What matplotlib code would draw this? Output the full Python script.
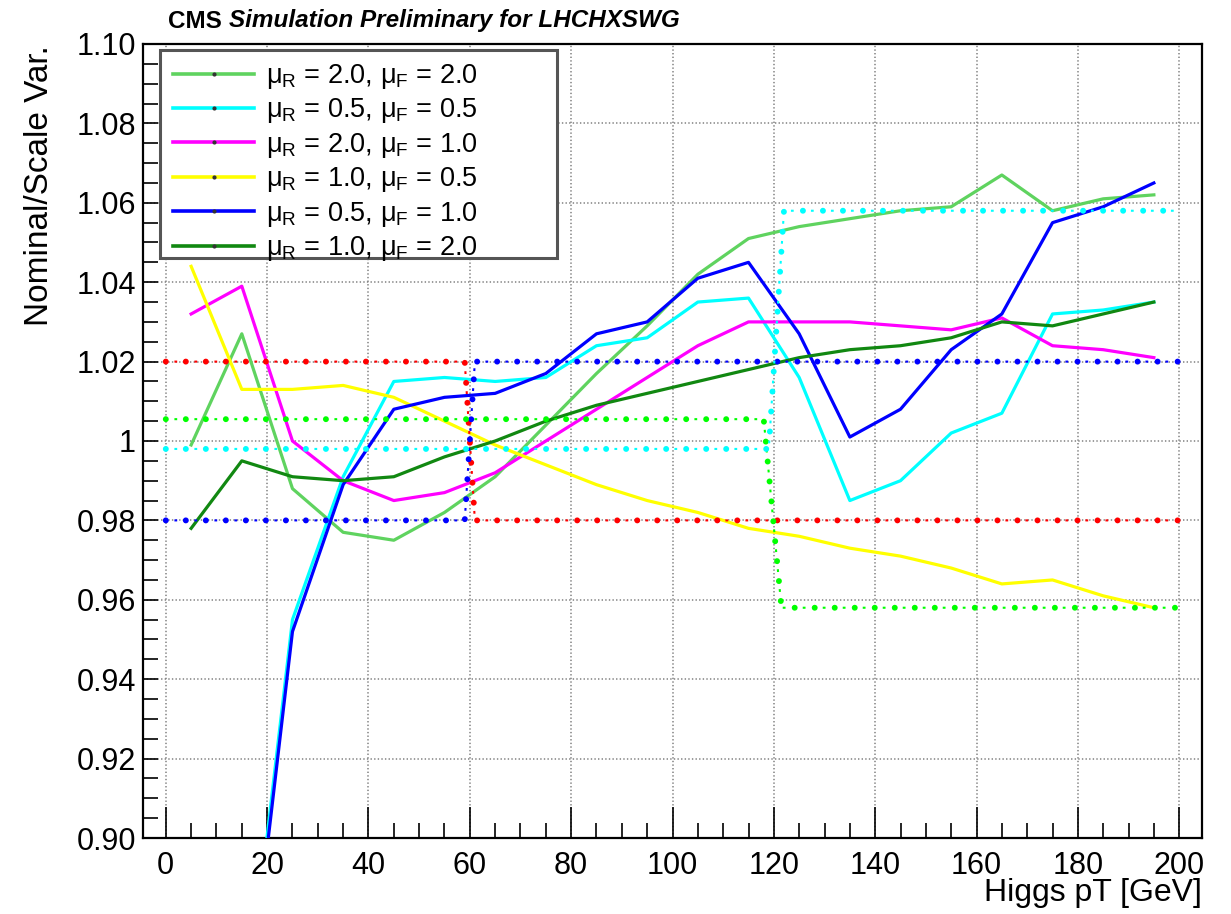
import numpy as np
import matplotlib
matplotlib.use('Agg')
from matplotlib import pyplot as plt
from matplotlib.lines import Line2D
from matplotlib.patches import Rectangle
from matplotlib.ticker import MultipleLocator

plt.rcParams['font.family'] = ['Liberation Sans', 'DejaVu Sans']
plt.rcParams['mathtext.fontset'] = 'custom'
plt.rcParams['mathtext.rm'] = 'Liberation Sans'
plt.rcParams['lines.scale_dashes'] = False

# bin centres of Higgs pT [GeV]
pt = [5, 15, 25, 35, 45, 55, 65, 75, 85, 95,
      105, 115, 125, 135, 145, 155, 165, 175, 185, 195]

# nominal / scale variation ratios
r20_f20 = [0.999, 1.027, 0.988, 0.977, 0.975, 0.982, 0.991, 1.004, 1.017, 1.029,
           1.042, 1.051, 1.054, 1.056, 1.058, 1.059, 1.067, 1.058, 1.061, 1.062]
r05_f05 = [np.nan, 0.846, 0.955, 0.991, 1.015, 1.016, 1.015, 1.016, 1.024, 1.026,
           1.035, 1.036, 1.016, 0.985, 0.990, 1.002, 1.007, 1.032, 1.033, 1.035]
r20_f10 = [1.032, 1.039, 1.000, 0.990, 0.985, 0.987, 0.992, 1.000, 1.008, 1.016,
           1.024, 1.030, 1.030, 1.030, 1.029, 1.028, 1.031, 1.024, 1.023, 1.021]
r10_f05 = [1.044, 1.013, 1.013, 1.014, 1.011, 1.005, 0.999, 0.994, 0.989, 0.985,
           0.982, 0.978, 0.976, 0.973, 0.971, 0.968, 0.964, 0.965, 0.961, 0.958]
r05_f10 = [np.nan, 0.843, 0.952, 0.989, 1.008, 1.011, 1.012, 1.017, 1.027, 1.030,
           1.041, 1.045, 1.027, 1.001, 1.008, 1.023, 1.032, 1.055, 1.059, 1.065]
r10_f20 = [0.978, 0.995, 0.991, 0.990, 0.991, 0.996, 1.000, 1.005, 1.009, 1.012,
           1.015, 1.018, 1.021, 1.023, 1.024, 1.026, 1.030, 1.029, 1.032, 1.035]

series = [
    (r20_f20, '#5fd35f', 'μ$_\\mathrm{R}$ = 2.0, μ$_\\mathrm{F}$ = 2.0'),
    (r05_f05, '#00ffff', 'μ$_\\mathrm{R}$ = 0.5, μ$_\\mathrm{F}$ = 0.5'),
    (r20_f10, '#ff00ff', 'μ$_\\mathrm{R}$ = 2.0, μ$_\\mathrm{F}$ = 1.0'),
    (r10_f05, '#ffff00', 'μ$_\\mathrm{R}$ = 1.0, μ$_\\mathrm{F}$ = 0.5'),
    (r05_f10, '#0000ff', 'μ$_\\mathrm{R}$ = 0.5, μ$_\\mathrm{F}$ = 1.0'),
    (r10_f20, '#118811', 'μ$_\\mathrm{R}$ = 1.0, μ$_\\mathrm{F}$ = 2.0'),
]

# step-like reference bands (dotted)
red_x = [0, 59, 61, 200]
red_y = [1.02, 1.02, 0.98, 0.98]
blue_x = [0, 59, 61, 200]
blue_y = [0.98, 0.98, 1.02, 1.02]
lime_x = [0, 118, 121.5, 200]
lime_y = [1.0055, 1.0055, 0.958, 0.958]
cyan_x = [0, 119, 122, 200]
cyan_y = [0.998, 0.998, 1.058, 1.058]

fig = plt.figure(figsize=(12.31, 9.14), dpi=100)
ax = fig.add_axes([143 / 1231, 76 / 914, 1059 / 1231, 794 / 914])

ax.set_xlim(-4.5, 204.5)
ax.set_ylim(0.90, 1.10)

ax.grid(True, which='major', color='#808080', linestyle=(0, (1.0, 1.6)), linewidth=1.1)
ax.set_axisbelow(True)

for vals, col, lab in series:
    ax.plot(pt, vals, color=col, linewidth=2.3, zorder=3)


def dotted_step(x, y, col):
    ax.plot(x, y, color=col, linewidth=4.3, linestyle=(0, (0.01, 14.4)),
            dash_capstyle='round', zorder=4)
    ax.plot(x, y, color=col, linewidth=1.5, linestyle=(-6.2, (2.0, 12.4)), zorder=4)


dotted_step(red_x, red_y, '#ff0000')
dotted_step(blue_x, blue_y, '#0000ff')
dotted_step(lime_x, lime_y, '#00ff00')
dotted_step(cyan_x, cyan_y, '#00ffff')

ax.xaxis.set_major_locator(MultipleLocator(20))
ax.xaxis.set_minor_locator(MultipleLocator(5))
ax.yaxis.set_major_locator(MultipleLocator(0.02))
ax.yaxis.set_minor_locator(MultipleLocator(0.005))
yt = np.round(np.arange(0.90, 1.1001, 0.02), 2)
ax.set_yticks(yt)
ax.set_yticklabels(['1' if abs(v - 1) < 1e-9 else '%.2f' % v for v in yt])
ax.tick_params(axis='x', which='major', direction='in', length=22, width=1.2,
               labelsize=22, pad=9)
ax.tick_params(axis='x', which='minor', direction='in', length=11, width=1.2)
ax.tick_params(axis='y', which='both', direction='in', length=11, width=1.2,
               labelsize=22, pad=5)
for s in ax.spines.values():
    s.set_linewidth(1.6)

# legend
handles = [Line2D([0, 0.5, 1], [0, 0, 0], color=col, linewidth=2.6, marker='o',
                  markersize=2, markevery=[1],
                  markerfacecolor='#333333', markeredgecolor='#333333')
           for vals, col, lab in series]
labels = [lab for vals, col, lab in series]
leg = ax.legend(handles, labels,
                loc='upper left', bbox_to_anchor=(0.018, 0.991), frameon=False,
                fontsize=19.5, handlelength=3.0, handletextpad=0.45, labelspacing=0.2,
                borderaxespad=0)
leg.set_zorder(6)
ax.add_patch(Rectangle((0.016, 0.730), 0.375, 0.262, transform=ax.transAxes,
                       facecolor='white', edgecolor='#555555', linewidth=2.2, zorder=5))

# header
renderer = fig.canvas.get_renderer()
t1 = fig.text(168 / 1231, 1 - 21 / 914, 'CMS', fontsize=17.5, fontweight='bold',
              ha='left', va='center')
bb = t1.get_window_extent(renderer)
fig.text((bb.x1 + 7) / 1231, 1 - 21 / 914, 'Simulation Preliminary for LHCHXSWG',
         fontsize=17.5, fontweight='bold', fontstyle='italic', ha='left', va='center')

fig.text(40 / 1231, 1 - 45 / 914, 'Nominal/Scale Var.', rotation=90, fontsize=24,
         ha='center', va='top')
fig.text(1202 / 1231, 1 - 893 / 914, 'Higgs pT [GeV]', fontsize=23,
         ha='right', va='center')

fig.savefig('out.png', dpi=100)
